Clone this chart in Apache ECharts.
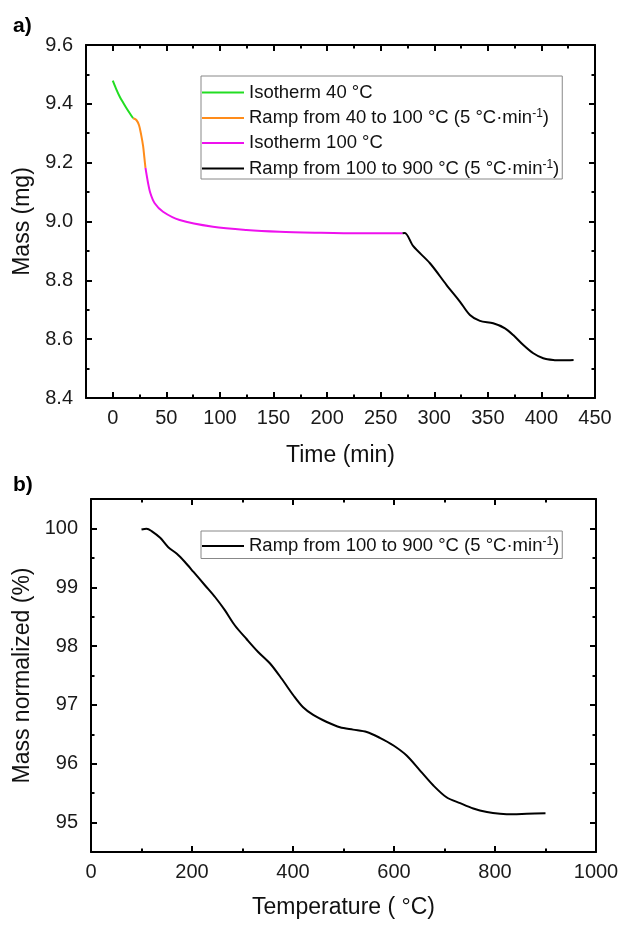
<!DOCTYPE html>
<html>
<head>
<meta charset="utf-8">
<script src="https://cdn.jsdelivr.net/npm/echarts@6/dist/echarts.min.js"></script>
<style>
html,body{margin:0;padding:0;background:#fff;}
#c{width:623px;height:928px;}
</style>
</head>
<body>
<div id="c"></div>
<script>
// ---------- data ----------
const iso40Time = [0, 3, 6.5, 10, 12.8, 16, 19];
const iso40Mass = [9.479, 9.452, 9.424, 9.402, 9.385, 9.367, 9.351];

const ramp1Time = [19, 22, 24.5, 26.4, 28.3, 29.5, 30.5];
const ramp1Mass = [9.351, 9.345, 9.327, 9.296, 9.256, 9.216, 9.182];

const iso100Time = [30.5, 32.9, 35.1, 39.1, 46.9, 62.4, 93.5, 124.6, 155.6, 190, 230, 270.4];
const iso100Mass = [9.182, 9.131, 9.096, 9.062, 9.033, 9.005, 8.982, 8.971, 8.965, 8.962, 8.960, 8.960];

const ramp2Time = [270.4, 272.6, 280.4, 296, 311.5, 323.9, 333.3, 342.6, 355, 366, 373.7, 383.1, 392.4, 401.7, 411, 420, 430];
const ramp2Mass = [8.960, 8.961, 8.916, 8.858, 8.784, 8.728, 8.682, 8.662, 8.654, 8.637, 8.614, 8.580, 8.552, 8.535, 8.529, 8.528, 8.529];

const tempC = [100, 110, 120, 137, 153, 170, 186, 203, 226, 246, 265, 285, 308, 331, 355, 378, 401, 420, 440, 467, 493, 519, 546, 572, 599, 625, 652, 678, 704, 731, 757, 784, 810, 836, 863, 900];
const massNorm = [99.98, 99.995, 99.955, 99.84, 99.68, 99.57, 99.43, 99.26, 99.03, 98.83, 98.61, 98.35, 98.12, 97.90, 97.70, 97.44, 97.16, 96.96, 96.83, 96.71, 96.62, 96.58, 96.54, 96.44, 96.31, 96.14, 95.88, 95.63, 95.43, 95.33, 95.24, 95.18, 95.15, 95.14, 95.15, 95.16];

// tick values
const timeTicks = [0, 50, 100, 150, 200, 250, 300, 350, 400, 450];
const timeMinor = [25, 75, 125, 175, 225, 275, 325, 375, 425];
const massTicks = [8.4, 8.6, 8.8, 9.0, 9.2, 9.4, 9.6];
const massMinor = [8.5, 8.7, 8.9, 9.1, 9.3, 9.5];
const tempTicks = [0, 200, 400, 600, 800, 1000];
const tempMinor = [100, 300, 500, 700, 900];
const normTicks = [95, 96, 97, 98, 99, 100];
const normMinor = [95.5, 96.5, 97.5, 98.5, 99.5];

const names = ['Isotherm 40 \u00B0C', 'Ramp from 40 to 100 \u00B0C (5 \u00B0C\u00B7min-1)', 'Isotherm 100 \u00B0C', 'Ramp from 100 to 900 \u00B0C (5 \u00B0C\u00B7min-1)'];
const colors = ['#22dd22', '#ff8c1a', '#ee11ee', '#000000'];

// ---------- helpers ----------
const FONT = 'Liberation Sans, Arial, sans-serif';
const pair = (xs, ys) => xs.map((x, i) => [x, ys[i]]);

function axis(grid, pos, min, max, ticks, major, opts) {
  const a = {
    type: 'value', gridIndex: grid, position: pos, min: min, max: max,
    axisLine: { show: major, onZero: false, lineStyle: { color: '#000', width: 2 } },
    axisTick: { show: true, inside: true, customValues: ticks, length: major ? 6 : 3.5, lineStyle: { color: '#000', width: 2 } },
    axisLabel: { show: false },
    splitLine: { show: false }
  };
  return Object.assign(a, opts || {});
}
function labelOpts(ticks, fmt, margin) {
  return { show: true, customValues: ticks, formatter: fmt, fontFamily: FONT, fontSize: 20, color: '#1a1a1a', margin: margin, showMinLabel: true, showMaxLabel: true };
}
const nameStyle = { fontFamily: FONT, fontSize: 23, color: '#111' };

const xAxes = [
  axis(0, 'bottom', -25, 450, timeTicks, true, {
    axisLabel: labelOpts(timeTicks, v => String(v), 10),
    name: 'Time (min)', nameLocation: 'middle', nameGap: 46, nameTextStyle: nameStyle
  }),
  axis(0, 'bottom', -25, 450, timeMinor, false),
  axis(0, 'top', -25, 450, timeTicks, true),
  axis(0, 'top', -25, 450, timeMinor, false),
  axis(1, 'bottom', 0, 1000, tempTicks, true, {
    axisLabel: labelOpts(tempTicks, v => String(v), 10),
    name: 'Temperature ( \u00B0C)', nameLocation: 'middle', nameGap: 44, nameTextStyle: nameStyle
  }),
  axis(1, 'bottom', 0, 1000, tempMinor, false),
  axis(1, 'top', 0, 1000, tempTicks, true),
  axis(1, 'top', 0, 1000, tempMinor, false)
];
const yAxes = [
  axis(0, 'left', 8.4, 9.6, massTicks, true, {
    axisLabel: labelOpts(massTicks, v => v.toFixed(1), 13),
    name: 'Mass (mg)', nameLocation: 'middle', nameGap: 50, nameTextStyle: nameStyle
  }),
  axis(0, 'left', 8.4, 9.6, massMinor, false),
  axis(0, 'right', 8.4, 9.6, massTicks, true),
  axis(0, 'right', 8.4, 9.6, massMinor, false),
  axis(1, 'left', 94.5, 100.5, normTicks, true, {
    axisLabel: labelOpts(normTicks, v => String(v), 13),
    name: 'Mass normalized (%)', nameLocation: 'middle', nameGap: 55, nameTextStyle: nameStyle
  }),
  axis(1, 'left', 94.5, 100.5, normMinor, false),
  axis(1, 'right', 94.5, 100.5, normTicks, true),
  axis(1, 'right', 94.5, 100.5, normMinor, false)
];

function line(name, data, color, xi, yi) {
  return {
    type: 'line', name: name, data: data, xAxisIndex: xi, yAxisIndex: yi,
    showSymbol: false, symbol: 'none', smooth: 0.3, animation: false,
    lineStyle: { color: color, width: 2 }, itemStyle: { color: color }
  };
}

const legendFmt = n => {
  const i = n.indexOf('min-1)');
  if (i < 0) return '{t|' + n + '}';
  return '{t|' + n.slice(0, i + 3) + '}{s|-1}{t|)}';
};
const legendRich = {
  t: { fontFamily: FONT, fontSize: 18.5, color: '#111', lineHeight: 20 },
  s: { fontFamily: FONT, fontSize: 12, color: '#111', verticalAlign: 'top', lineHeight: 12 }
};
const legendItems = names.map((n, i) => ({ name: n, icon: 'rect', itemStyle: { color: colors[i] } }));

const option = {
  backgroundColor: '#fff',
  animation: false,
  grid: [
    { left: 86, top: 45, width: 509, height: 353 },
    { left: 91, top: 499, width: 505, height: 353 }
  ],
  xAxis: xAxes,
  yAxis: yAxes,
  legend: [
    {
      orient: 'vertical', left: 201, top: 76, data: legendItems,
      itemWidth: 42, itemHeight: 2, itemGap: 6,
      padding: [7, 3, 1, 1], backgroundColor: '#fff', borderColor: '#888', borderWidth: 1,
      formatter: legendFmt, textStyle: { rich: legendRich },
      selectedMode: false
    },
    {
      orient: 'vertical', left: 201, top: 531, data: [legendItems[3]],
      itemWidth: 42, itemHeight: 2,
      padding: [5, 3, 3, 1], backgroundColor: '#fff', borderColor: '#888', borderWidth: 1,
      formatter: legendFmt, textStyle: { rich: legendRich },
      selectedMode: false
    }
  ],
  graphic: [
    { type: 'text', left: 13, top: 16, style: { text: 'a)', font: 'bold 21px ' + FONT, fill: '#000' } },
    { type: 'text', left: 13, top: 475, style: { text: 'b)', font: 'bold 21px ' + FONT, fill: '#000' } }
  ],
  series: [
    line(names[0], pair(iso40Time, iso40Mass), colors[0], 0, 0),
    line(names[1], pair(ramp1Time, ramp1Mass), colors[1], 0, 0),
    line(names[2], pair(iso100Time, iso100Mass), colors[2], 0, 0),
    line(names[3], pair(ramp2Time, ramp2Mass), colors[3], 0, 0),
    line(names[3], pair(tempC, massNorm), '#000', 4, 4)
  ]
};

const chart = echarts.init(document.getElementById('c'), null, { renderer: 'canvas' });
chart.setOption(option);
</script>
</body>
</html>
